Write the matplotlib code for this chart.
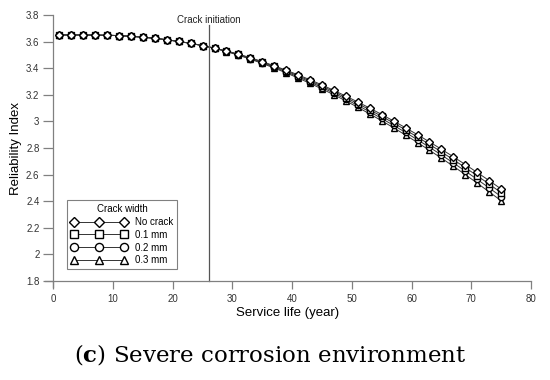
import numpy as np
import matplotlib
matplotlib.use("Agg")
import matplotlib.pyplot as plt
from matplotlib.ticker import FuncFormatter

plt.rcParams['font.family'] = ['Liberation Sans', 'DejaVu Sans']
plt.rcParams['mathtext.fontset'] = 'custom'
plt.rcParams['mathtext.rm'] = 'DejaVu Serif'
plt.rcParams['mathtext.bf'] = 'DejaVu Serif:bold'

# service life (year)
years = [1, 3, 5, 7, 9, 11, 13, 15, 17, 19, 21, 23, 25, 27, 29, 31, 33, 35, 37,
         39, 41, 43, 45, 47, 49, 51, 53, 55, 57, 59, 61, 63, 65, 67, 69, 71, 73, 75]

# common part before the crack opens (years 1..25)
before = [3.650, 3.650, 3.650, 3.649, 3.648, 3.645, 3.640, 3.633, 3.625,
          3.614, 3.601, 3.587, 3.570]

no_crack = before + [3.551, 3.530, 3.506, 3.479, 3.450, 3.418, 3.385, 3.350,
                     3.313, 3.274, 3.233, 3.190, 3.146, 3.100, 3.052, 3.003,
                     2.952, 2.900, 2.846, 2.791, 2.734, 2.676, 2.616, 2.555, 2.492]
crack_01 = before + [3.551, 3.529, 3.504, 3.476, 3.446, 3.413, 3.379, 3.343,
                     3.305, 3.265, 3.223, 3.179, 3.134, 3.087, 3.038, 2.988,
                     2.936, 2.882, 2.827, 2.771, 2.712, 2.653, 2.591, 2.529, 2.464]
crack_02 = before + [3.550, 3.527, 3.501, 3.472, 3.441, 3.407, 3.372, 3.335,
                     3.296, 3.255, 3.212, 3.167, 3.120, 3.072, 3.022, 2.970,
                     2.917, 2.862, 2.806, 2.748, 2.688, 2.627, 2.564, 2.500, 2.435]
crack_03 = before + [3.549, 3.525, 3.498, 3.468, 3.436, 3.401, 3.365, 3.326,
                     3.286, 3.244, 3.200, 3.154, 3.106, 3.056, 3.005, 2.952,
                     2.897, 2.841, 2.783, 2.724, 2.663, 2.600, 2.536, 2.470, 2.404]

series = [no_crack, crack_01, crack_02, crack_03]
labels = ['No crack', '0.1 mm', '0.2 mm', '0.3 mm']
markers = ['D', 's', 'o', '^']
crack_year = 26

fig = plt.figure(figsize=(5.5, 3.8), dpi=100)
ax = fig.add_axes([0.0818, 0.2447, 0.8836, 0.7158])

#draw from the last one so no crack sits on top
for i in range(3, -1, -1):
    ax.plot(years, series[i], color='#333333', lw=0.7, marker=markers[i],
            ms=4.5 if markers[i] != 'D' else 4, mfc='white', mec='black',
            mew=1.0, label=labels[i])

ax.plot([crack_year, crack_year], [1.8, 3.725], color='#555555', lw=0.9)
ax.text(crack_year, 3.762, 'Crack initiation', ha='center', va='center',
        fontsize=7, color='#222222')

ax.set_xlim(-1.4, 80)
ax.set_ylim(1.755, 3.8)
ax.set_xticks(np.arange(0, 81, 10))
ax.set_yticks(np.arange(1.8, 3.81, 0.2))
ax.yaxis.set_major_formatter(FuncFormatter(lambda v, p: '%g' % round(v, 2)))

for s in ['top', 'right']:
    ax.spines[s].set_visible(False)
ax.spines['left'].set_position(('data', 0))
ax.spines['bottom'].set_position(('data', 1.8))
for s in ['left', 'bottom']:
    ax.spines[s].set_color('#808080')
    ax.spines[s].set_linewidth(0.9)
ax.tick_params(direction='out', length=6, width=0.9, color='#808080',
               labelsize=7, labelcolor='#333333')
ax.tick_params(axis='x', pad=3.5)
ax.tick_params(axis='y', pad=3, length=7)

ax.set_xlabel('Service life (year)', fontsize=9.5, labelpad=2)
ax.set_ylabel('Reliability Index', fontsize=9.5)
ax.yaxis.set_label_coords(-0.047, 0.51)

h, l = ax.get_legend_handles_labels()
leg = ax.legend(h[::-1], l[::-1], title='Crack width', loc='upper left',
                bbox_to_anchor=(0.035, 0.336), fontsize=7, title_fontsize=7,
                numpoints=3, handlelength=5.8, fancybox=False, framealpha=1,
                edgecolor='#808080', borderpad=0.4, labelspacing=0.28,
                handletextpad=0.8, markerscale=1.3)
leg.get_frame().set_linewidth(0.8)

fig.text(0.492, 0.068, r'($\mathbf{c}$) Severe corrosion environment',
         ha='center', va='center', fontsize=16.5, family='DejaVu Serif')

fig.savefig('out.png', dpi=100)
